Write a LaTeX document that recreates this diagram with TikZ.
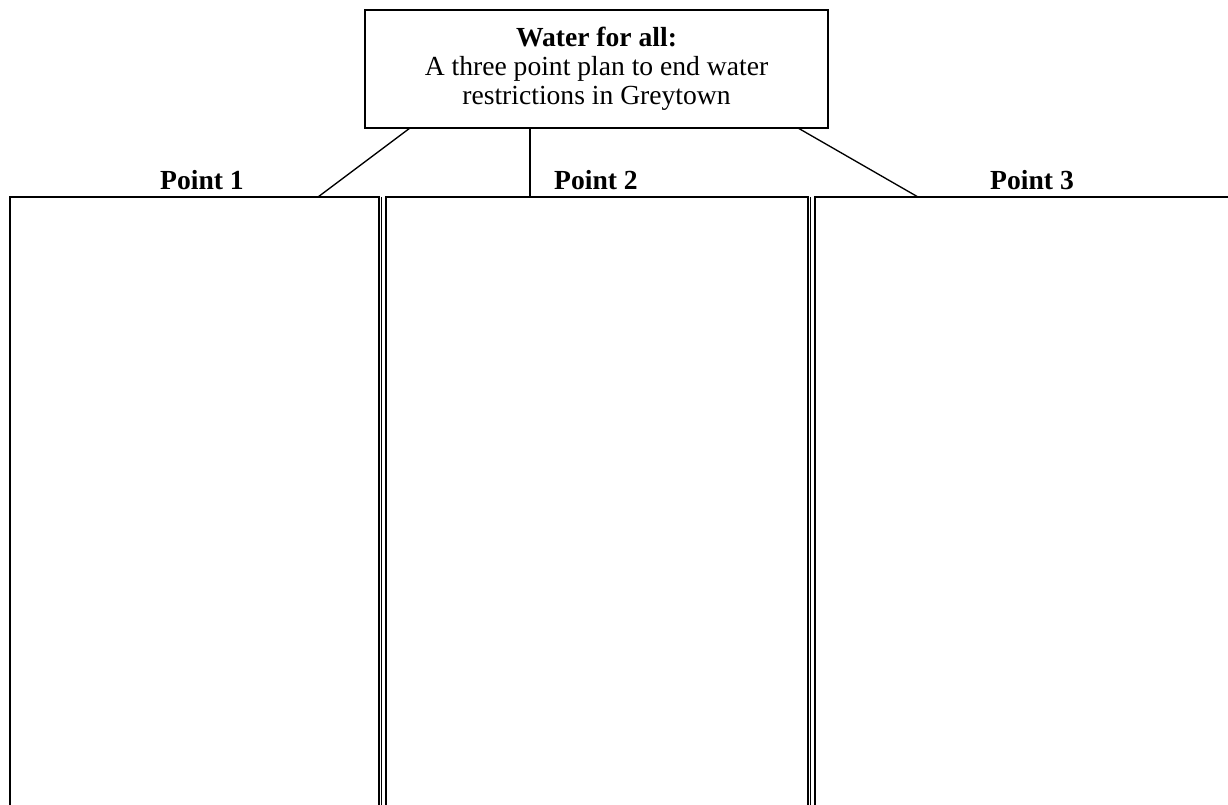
\documentclass[tikz,border=0pt]{standalone}
\usepackage{fontspec}
\setmainfont{Liberation Serif}
\usetikzlibrary{calc}
\tikzset{every picture/.style={line width=1.1pt}}
\begin{document}
\begin{tikzpicture}[x=0.75pt,y=0.75pt,yscale=-1,xscale=1,
  titlebox/.style={draw, align=center, inner sep=0pt, outer sep=0pt, minimum width=347.25pt, minimum height=88.5pt, font=\fontsize{20.7}{21.75}\selectfont},
  pointlabel/.style={anchor=base, inner sep=0pt, font=\fontsize{20.7}{21.75}\selectfont\bfseries},
  link/.style={line width=1pt}]
\useasboundingbox (0,0) rectangle (1228,805);

%Title box
\node [titlebox] (title) at (596.5,69) {\textbf{Water for all:}\\A three point plan to end water\\restrictions in Greytown};

%Column tops
\coordinate (p1) at (318,197);
\coordinate (p2) at (530,197);
\coordinate (p3) at (918,197);

%Column 1
\draw (10,805) -- (10,197) -- (379,197) -- (379,805);
\draw (381.5,197) -- (381.5,805);
%Column 2
\draw (386,805) -- (386,197) -- (808,197) -- (808,805);
\draw (810.5,197) -- (810.5,805);
%Column 3
\draw (815,805) -- (815,197) -- (1228,197);

%Labels
\node [pointlabel] (lab1) at (202,190) {Point 1};
\node [pointlabel] (lab2) at (596,190) {Point 2};
\node [pointlabel] (lab3) at (1032,190) {Point 3};

%Connectors
\draw [link] ($(title.south west)+(45,0)$) -- (p1);
\draw [link] ($(title.south west)+(165,0)$) -- (p2);
\draw [link] ($(title.south west)+(433,0)$) -- (p3);

\end{tikzpicture}
\end{document}
